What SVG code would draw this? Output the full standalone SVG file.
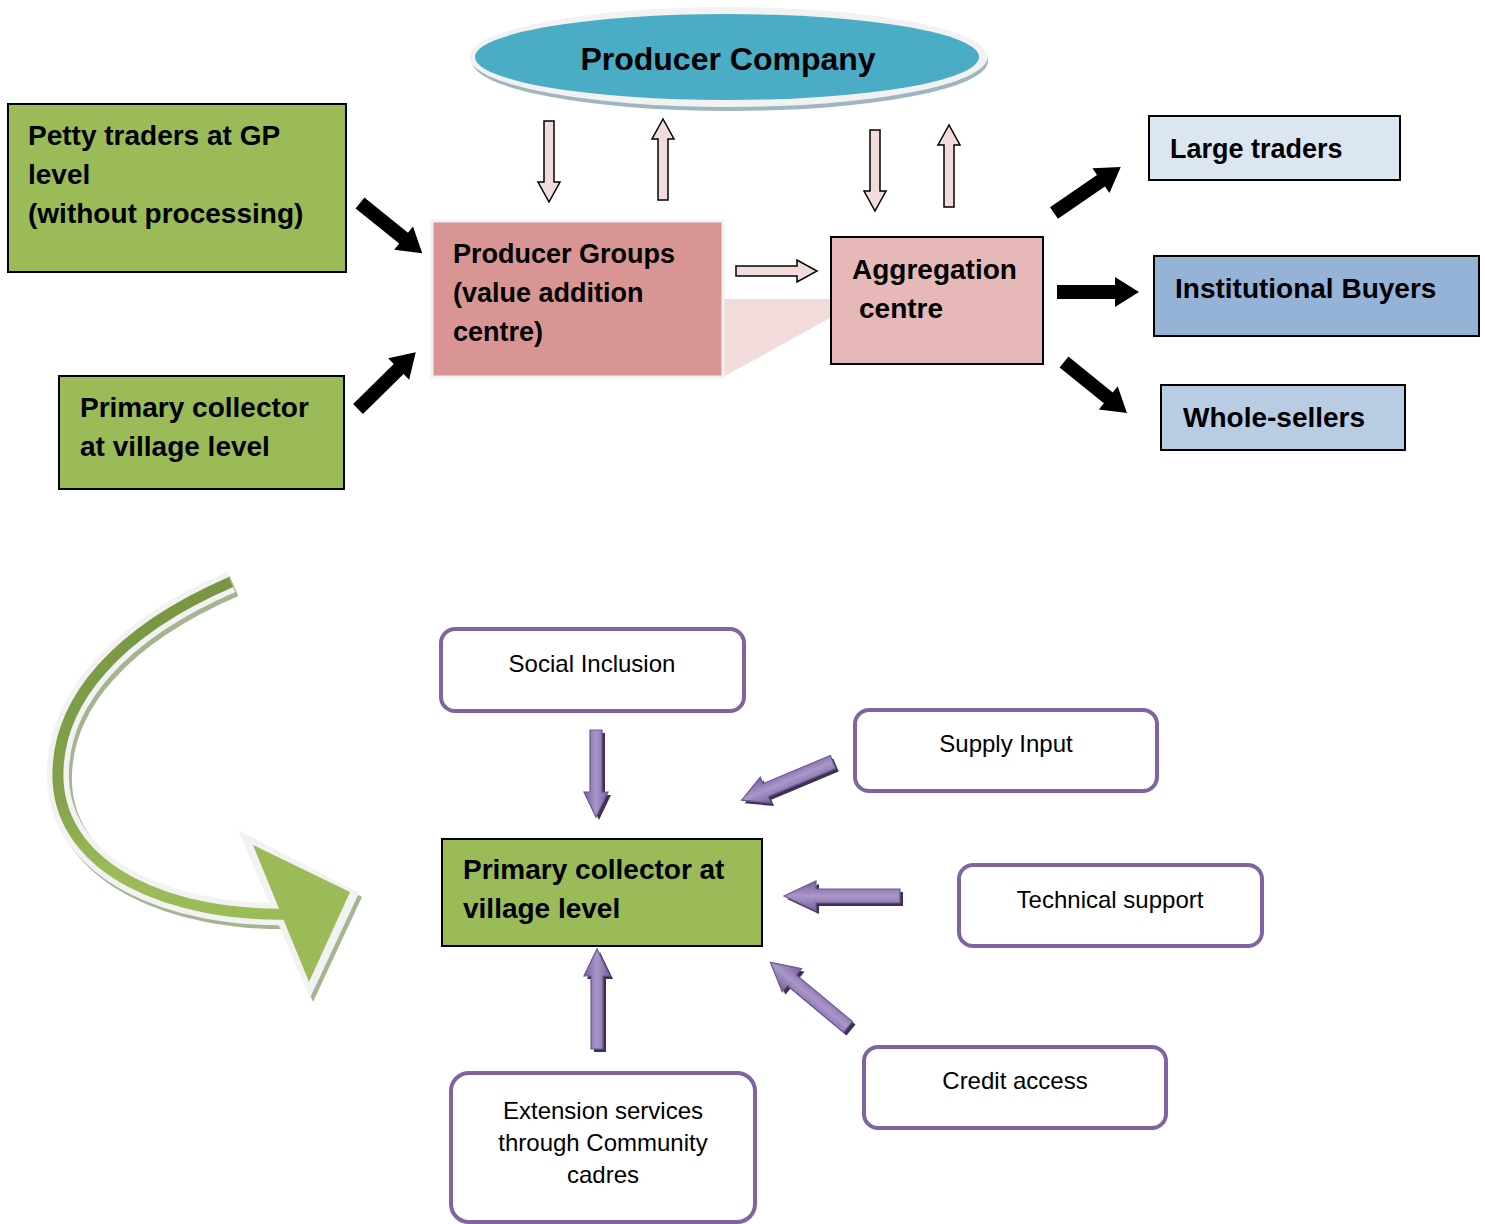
<svg xmlns="http://www.w3.org/2000/svg" width="1485" height="1224" viewBox="0 0 1485 1224">
<defs>
<style>
.b{font-family:"Liberation Sans",Arial,sans-serif;font-weight:bold;font-size:28px;fill:#000}
.b32{font-size:32px}
.b27{font-size:27px}
.r{font-family:"Liberation Sans",Arial,sans-serif;font-size:24px;fill:#000;text-anchor:middle}
.green{fill:#9bbb59;stroke:#000;stroke-width:2}
.pbox{fill:#fff;stroke:#8064a2;stroke-width:4}
.blk{fill:#000}
.pink{fill:#f2dcdb;stroke:#000;stroke-width:1.5}
.pur{fill:url(#pg);stroke:#6f5596;stroke-width:1.2}
.pursh{fill:#3f3151}
</style>
<linearGradient id="pg" x1="0" y1="0" x2="0" y2="1">
<stop offset="0" stop-color="#7a5f9e"/>
<stop offset="0.5" stop-color="#a897c8"/>
<stop offset="1" stop-color="#7a5f9e"/>
</linearGradient>
<linearGradient id="cg" gradientUnits="userSpaceOnUse" x1="0" y1="580" x2="0" y2="920">
<stop offset="0" stop-color="#779542"/>
<stop offset="0.65" stop-color="#83a34b"/>
<stop offset="0.85" stop-color="#9bbb59"/>
</linearGradient>
</defs>
<rect width="1485" height="1224" fill="#fff"/>

<g id="producer-company">
<ellipse cx="730" cy="61" rx="258" ry="50" fill="#9fb6c0"/>
<ellipse cx="728.5" cy="57" rx="259" ry="50" fill="#f2f2f2"/>
<ellipse cx="727" cy="57" rx="252" ry="43" fill="#4bacc6"/>
<text class="b b32" x="728" y="70" text-anchor="middle">Producer Company</text>
</g>

<g id="trapezoid">
<polygon points="723,299 830,299 830,318 723,377" fill="#f2dcdb"/>
</g>

<g id="producer-groups">
<rect x="432" y="221" width="291" height="156" fill="#d99594" stroke="#f2f2f2" stroke-width="3"/>
<text class="b b27" x="453" y="263">Producer Groups</text>
<text class="b b27" x="453" y="302">(value addition</text>
<text class="b b27" x="453" y="341">centre)</text>
</g>

<g id="aggregation-centre">
<rect x="831" y="237" width="212" height="127" fill="#e6b8b7" stroke="#000" stroke-width="2"/>
<text class="b" x="852" y="279">Aggregation</text>
<text class="b" x="859" y="318">centre</text>
</g>

<g id="petty-traders">
<rect class="green" x="8" y="104" width="338" height="168"/>
<text class="b" x="28" y="145">Petty traders at GP</text>
<text class="b" x="28" y="184">level</text>
<text class="b" x="28" y="223">(without processing)</text>
</g>

<g id="primary-collector-top">
<rect class="green" x="59" y="376" width="285" height="113"/>
<text class="b" x="80" y="417">Primary collector</text>
<text class="b" x="80" y="456">at village level</text>
</g>

<g id="large-traders">
<rect x="1149" y="116" width="251" height="64" fill="#dce6f2" stroke="#000" stroke-width="2"/>
<text class="b b27" x="1170" y="158">Large traders</text>
</g>

<g id="institutional-buyers">
<rect x="1154" y="256" width="325" height="80" fill="#95b3d7" stroke="#000" stroke-width="2"/>
<text class="b" x="1175" y="298">Institutional Buyers</text>
</g>

<g id="whole-sellers">
<rect x="1161" y="385" width="244" height="65" fill="#b8cce4" stroke="#000" stroke-width="2"/>
<text class="b" x="1183" y="427">Whole-sellers</text>
</g>

<g id="curved-arrow">
<g transform="translate(3,4)">
<path d="M 231 582 C 120 630, 55 700, 58 780 C 62 870, 170 918, 295 914" fill="none" stroke="#a5b592" stroke-width="22"/>
<polygon points="238,830 359,893 310,998" fill="#a5b592"/>
</g>
<path d="M 231 582 C 120 630, 55 700, 58 780 C 62 870, 170 918, 295 914" fill="none" stroke="#f2f2f2" stroke-width="22"/>
<polygon points="238,830 359,893 310,998" fill="#f2f2f2"/>
<path d="M 231 582 C 120 630, 55 700, 58 780 C 62 870, 170 918, 295 914" fill="none" stroke="url(#cg)" stroke-width="11"/>
<polygon points="253,845 350,892 309,982" fill="#9bbb59"/>
</g>

<g id="social-inclusion">
<rect class="pbox" x="441" y="629" width="303" height="82" rx="14"/>
<text class="r" x="592" y="672">Social Inclusion</text>
</g>

<g id="supply-input">
<rect class="pbox" x="855" y="710" width="302" height="81" rx="14"/>
<text class="r" x="1006" y="752">Supply Input</text>
</g>

<g id="technical-support">
<rect class="pbox" x="959" y="865" width="303" height="81" rx="14"/>
<text class="r" x="1110" y="908">Technical support</text>
</g>

<g id="credit-access">
<rect class="pbox" x="864" y="1047" width="302" height="81" rx="14"/>
<text class="r" x="1015" y="1089">Credit access</text>
</g>

<g id="extension-services">
<rect class="pbox" x="451" y="1073" width="304" height="149" rx="18"/>
<text class="r" x="603" y="1119">Extension services</text>
<text class="r" x="603" y="1151">through Community</text>
<text class="r" x="603" y="1183">cadres</text>
</g>

<g id="primary-collector-bottom">
<rect class="green" x="442" y="839" width="320" height="107"/>
<text class="b" x="463" y="879">Primary collector at</text>
<text class="b" x="463" y="918">village level</text>
</g>

<g id="connectors">
<path class="blk" transform="translate(360,203) rotate(38.9)" d="M0,-7 H56 V-15 L80,0 L56,15 V7 H0 Z"/>
<path class="blk" transform="translate(358,409) rotate(-44.5)" d="M0,-7 H57 V-15 L81,0 L57,15 V7 H0 Z"/>
<path class="blk" transform="translate(1054,213) rotate(-34.5)" d="M0,-7 H57 V-15 L81,0 L57,15 V7 H0 Z"/>
<path class="blk" transform="translate(1057,292)" d="M0,-7 H58 V-15 L82,0 L58,15 V7 H0 Z"/>
<path class="blk" transform="translate(1064,362) rotate(39)" d="M0,-7 H57 V-15 L81,0 L57,15 V7 H0 Z"/>

<path class="pink" transform="translate(549,121) rotate(90)" d="M0,-5 H61 V-11 L81,0 L61,11 V5 H0 Z"/>
<path class="pink" transform="translate(663,200) rotate(-90)" d="M0,-5 H61 V-11 L81,0 L61,11 V5 H0 Z"/>
<path class="pink" transform="translate(875,130) rotate(90)" d="M0,-5 H61 V-11 L81,0 L61,11 V5 H0 Z"/>
<path class="pink" transform="translate(949,207) rotate(-90)" d="M0,-5 H62 V-11 L82,0 L62,11 V5 H0 Z"/>
<path class="pink" transform="translate(736,271)" d="M0,-5 H61 V-11 L81,0 L61,11 V5 H0 Z"/>

<g transform="translate(3,3)">
<path class="pursh" transform="translate(596,730) rotate(90)" d="M0,-6 H62 V-12 L87,0 L62,12 V6 H0 Z"/>
<path class="pursh" transform="translate(833,762) rotate(157.3)" d="M0,-7 H73 V-14 L99,0 L73,14 V7 H0 Z"/>
<path class="pursh" transform="translate(900,896) rotate(180)" d="M0,-7 H84 V-15 L116,0 L84,15 V7 H0 Z"/>
<path class="pursh" transform="translate(848,1027) rotate(-140.2)" d="M0,-7 H73 V-15 L101,0 L73,15 V7 H0 Z"/>
<path class="pursh" transform="translate(597,1049) rotate(-90)" d="M0,-6 H73 V-13 L100,0 L73,13 V6 H0 Z"/>
</g>
<path class="pur" transform="translate(596,730) rotate(90)" d="M0,-6 H62 V-12 L87,0 L62,12 V6 H0 Z"/>
<path class="pur" transform="translate(833,762) rotate(157.3)" d="M0,-7 H73 V-14 L99,0 L73,14 V7 H0 Z"/>
<path class="pur" transform="translate(900,896) rotate(180)" d="M0,-7 H84 V-15 L116,0 L84,15 V7 H0 Z"/>
<path class="pur" transform="translate(848,1027) rotate(-140.2)" d="M0,-7 H73 V-15 L101,0 L73,15 V7 H0 Z"/>
<path class="pur" transform="translate(597,1049) rotate(-90)" d="M0,-6 H73 V-13 L100,0 L73,13 V6 H0 Z"/>
</g>
</svg>
